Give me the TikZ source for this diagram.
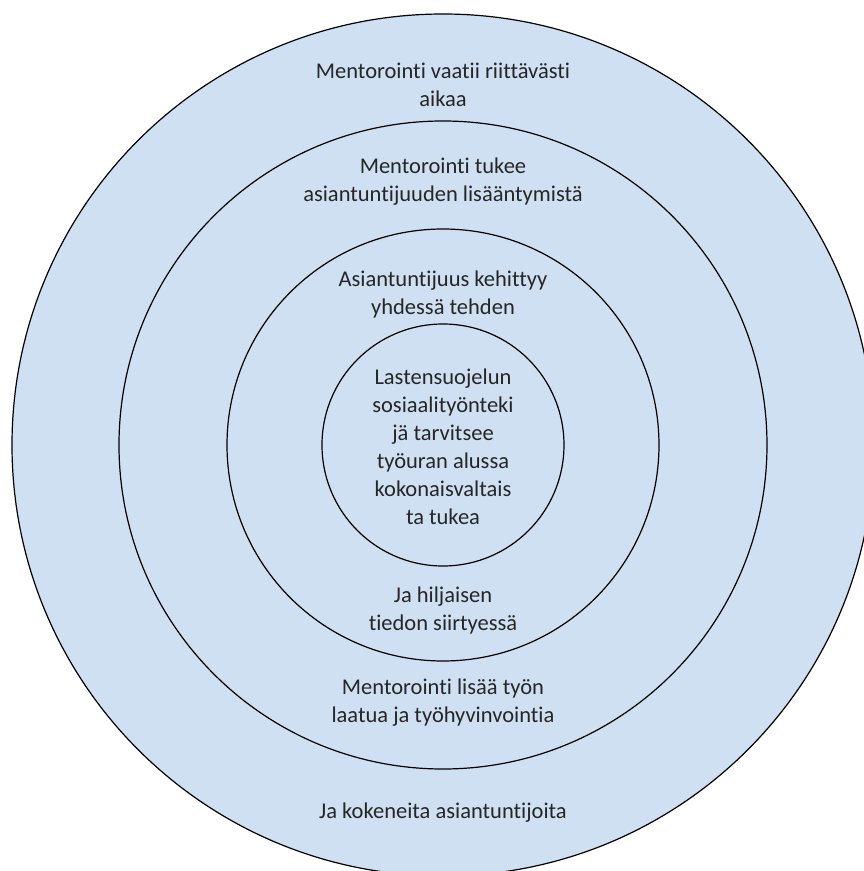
\documentclass[tikz,border=0pt]{standalone}
\usepackage{fontspec}
\setmainfont[Ligatures=NoCommon]{Carlito}
\usepackage{xcolor}
\usepackage{tikz}
\definecolor{ringblue}{RGB}{207,224,242}

\begin{document}
\begin{tikzpicture}[x=1pt, y=1pt,
    ring/.style={circle, draw, line width=1.2pt, fill=ringblue, inner sep=0pt},
    lbl/.style={align=center, text=black!85, font=\fontsize{22.5}{28}\selectfont}]
    \useasboundingbox (-443,-426) rectangle (421,445);
    \node (R1) [ring, minimum size=862pt] at (0,0) {};
    \node (R2) [ring, minimum size=648pt] at (0,0) {};
    \node (R3) [ring, minimum size=432pt] at (0,0) {};
    \node (R4) [ring, minimum size=242pt] at (0,0) {};
    \node (T1) [lbl] at (0,360) {Mentorointi vaatii riittävästi\\aikaa};
    \node (T2) [lbl] at (0,263) {Mentorointi tukee\\asiantuntijuuden lisääntymistä};
    \node (T3) [lbl] at (0,150) {Asiantuntijuus kehittyy\\yhdessä tehden};
    \node (T4) [lbl] at (0,-2) {Lastensuojelun\\sosiaalityönteki\\jä tarvitsee\\työuran alussa\\kokonaisvaltais\\ta tukea};
    \node (T5) [lbl] at (0,-165) {Ja hiljaisen\\tiedon siirtyessä};
    \node (T6) [lbl] at (0,-258) {Mentorointi lisää työn\\laatua ja työhyvinvointia};
    \node (T7) [lbl] at (0,-368) {Ja kokeneita asiantuntijoita};
\end{tikzpicture}
\end{document}
